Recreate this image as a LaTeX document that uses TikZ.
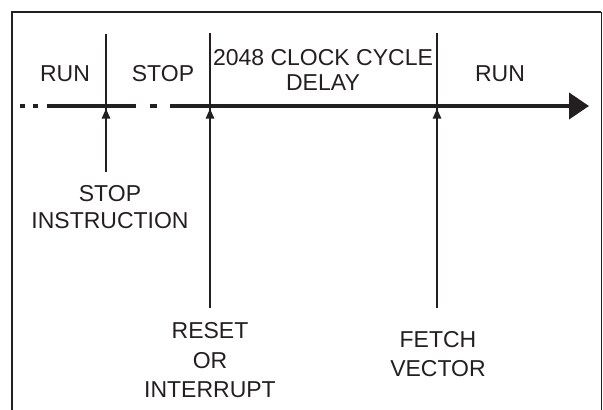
\documentclass[tikz,border=0pt]{standalone}
\usepackage{fontspec}
\setmainfont{Liberation Sans}
\usetikzlibrary{arrows.meta}
\definecolor{ink}{HTML}{231F20}
\begin{document}
\begin{tikzpicture}[x=1pt,y=-1pt,
  lbl/.style={inner sep=0pt,align=center,text=ink,font=\fontsize{23}{28}\selectfont},
  frame/.style={draw=ink,line width=2pt},
  axisline/.style={draw=ink,line width=4pt},
  marker/.style={draw=ink,line width=2.5pt},
  uparrow/.style={draw=ink,line width=2.5pt,-{Triangle[length=10pt,width=8pt]}}]
\useasboundingbox (0,0) rectangle (603,410);
% frame
\draw[frame] (12,410) -- (12,12) -- (601,12);
\draw[draw=ink,line width=1pt] (601,12) -- (601,410);
% axis coordinates
\coordinate (d1a) at (20,106); \coordinate (d1b) at (25,106);
\coordinate (d2a) at (33,106); \coordinate (d2b) at (38,106);
\coordinate (s1a) at (47,106); \coordinate (s1b) at (136,106);
\coordinate (d3a) at (150,106); \coordinate (d3b) at (157,106);
\coordinate (s2a) at (170,106); \coordinate (tip) at (589,106);
\draw[axisline] (d1a) -- (d1b);
\draw[axisline] (d2a) -- (d2b);
\draw[axisline] (s1a) -- (s1b);
\draw[axisline] (d3a) -- (d3b);
\draw[axisline,-{Triangle[length=20pt,width=26pt]}] (s2a) -- (tip);
% markers
\coordinate (m1top) at (106,34); \coordinate (m1ax) at (106,108.5); \coordinate (m1bot) at (106,172);
\coordinate (m2top) at (210,33); \coordinate (m2ax) at (210,108.5); \coordinate (m2bot) at (210,308);
\coordinate (m3top) at (437,33); \coordinate (m3ax) at (437,108.5); \coordinate (m3bot) at (437,308);
\draw[marker] (m1top) -- (m1bot);
\draw[marker] (m2top) -- (m2bot);
\draw[marker] (m3top) -- (m3bot);
\draw[uparrow] (m1bot) -- (m1ax);
\draw[uparrow] (m2bot) -- (m2ax);
\draw[uparrow] (m3bot) -- (m3ax);
% labels
\node[lbl] (run1) at (65,74) {RUN};
\node[lbl] (stop) at (163,74) {STOP};
\node[lbl,font=\fontsize{23}{25}\selectfont] (delay) at (323,69.5) {2048 CLOCK CYCLE\\DELAY};
\node[lbl] (run2) at (500,74) {RUN};
\node[lbl,font=\fontsize{23}{27}\selectfont] (stopi) at (110,207.5) {STOP\\INSTRUCTION};
\node[lbl,font=\fontsize{23}{29.5}\selectfont] (reset) at (210,360.5) {RESET\\OR\\INTERRUPT};
\node[lbl,font=\fontsize{23}{29}\selectfont] (fetch) at (438,354.5) {FETCH\\VECTOR};
\end{tikzpicture}
\end{document}
